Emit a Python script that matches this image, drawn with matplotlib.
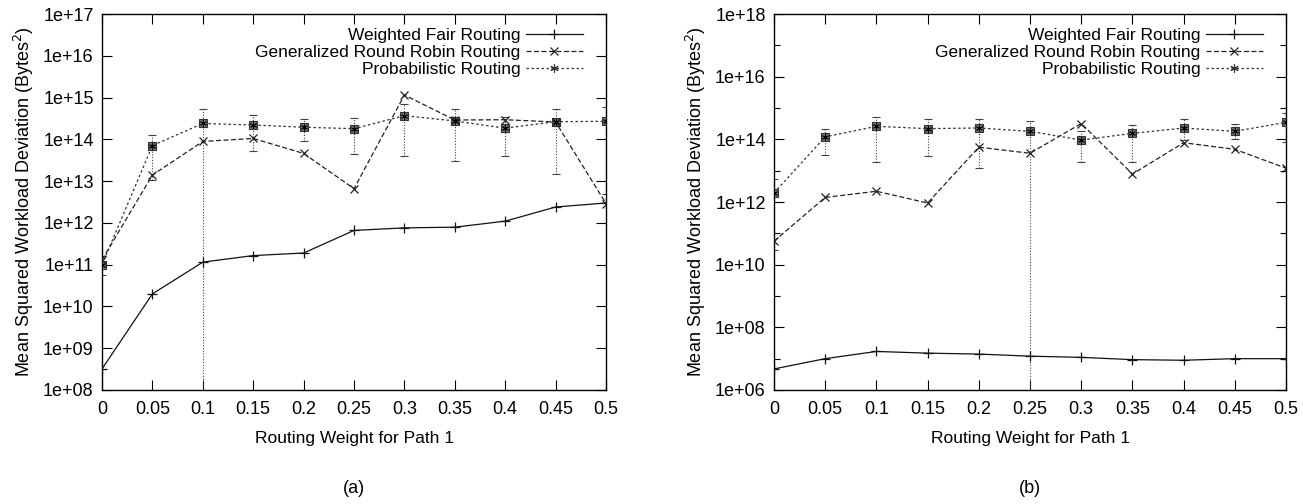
import matplotlib
matplotlib.use('Agg')
import matplotlib.pyplot as plt
from matplotlib.lines import Line2D
from matplotlib.ticker import LogLocator, FixedLocator, NullFormatter

plt.rcParams['font.family'] = ['Liberation Sans', 'DejaVu Sans']
plt.rcParams['font.size'] = 12

weights = [0, 0.05, 0.1, 0.15, 0.2, 0.25, 0.3, 0.35, 0.4, 0.45, 0.5]
weight_labels = ['0', '0.05', '0.1', '0.15', '0.2', '0.25', '0.3', '0.35', '0.4', '0.45', '0.5']

# panel (a)
wfr_a = [3.2e8, 2.0e10, 1.15e11, 1.65e11, 1.9e11, 6.6e11, 7.6e11, 7.9e11, 1.1e12, 2.4e12, 3.0e12]
grr_a = [1.3e11, 1.4e13, 8.9e13, 1.05e14, 4.6e13, 6.6e12, 1.15e15, 2.9e14, 2.95e14, 2.6e14, 2.9e12]
prob_a = [1.0e11, 7.1e13, 2.4e14, 2.2e14, 1.95e14, 1.8e14, 3.7e14, 2.75e14, 1.85e14, 2.65e14, 2.7e14]
prob_a_hi = [1.6e11, 1.3e14, 5.4e14, 3.8e14, 3.0e14, 3.2e14, 7.1e14, 5.2e14, 3.4e14, 5.2e14, 5.8e14]
prob_a_lo = [5.8e10, 1.05e13, 1e7, 5.4e13, 8.9e13, 4.5e13, 3.9e13, 3.0e13, 3.9e13, 1.5e13, 5e12]
yticks_a = [1e8, 1e9, 1e10, 1e11, 1e12, 1e13, 1e14, 1e15, 1e16, 1e17]
ylabels_a = ['1e+08', '1e+09', '1e+10', '1e+11', '1e+12', '1e+13', '1e+14', '1e+15', '1e+16', '1e+17']

# panel (b)
wfr_b = [4.7e6, 1.0e7, 1.7e7, 1.5e7, 1.4e7, 1.2e7, 1.1e7, 9.3e6, 8.9e6, 1.0e7, 1.0e7]
grr_b = [5.6e10, 1.4e12, 2.2e12, 9.3e11, 5.6e13, 3.6e13, 3.2e14, 7.8e12, 7.8e13, 4.8e13, 1.2e13]
prob_b = [1.95e12, 1.2e14, 2.6e14, 2.2e14, 2.3e14, 1.8e14, 9.5e13, 1.55e14, 2.3e14, 1.8e14, 3.5e14]
prob_b_hi = [5.6e12, 2.1e14, 5.2e14, 4.4e14, 4.6e14, 3.9e14, 1.8e14, 2.8e14, 4.4e14, 3.0e14, 7.1e14]
prob_b_lo = [3e10, 3.2e13, 1.95e13, 3.0e13, 1.2e13, 1e5, 1.9e13, 1.95e13, 9.5e13, 1.0e14, 8.5e13]
yticks_b = [1e6, 1e8, 1e10, 1e12, 1e14, 1e16, 1e18]
ylabels_b = ['1e+06', '1e+08', '1e+10', '1e+12', '1e+14', '1e+16', '1e+18']

series_names = ['Weighted Fair Routing', 'Generalized Round Robin Routing', 'Probabilistic Routing']

ASTERISK = (6, 2, 0)


def draw_panel(ax, wfr, grr, prob, lo, hi, yticks, ylabels, minor, tag):
    err = [[p - l for p, l in zip(prob, lo)], [h - p for p, h in zip(prob, hi)]]
    eb = ax.errorbar(weights, prob, yerr=err, fmt='none', ecolor='#444444',
                     elinewidth=0.8, capsize=3, capthick=0.8, zorder=2)
    for col in eb[2]:
        col.set_linestyle((0, (1, 1.5)))
    ax.plot(weights, prob, color='#333333', lw=0.9, ls=(0, (2, 2)),
            marker='s', ms=5.5, mfc='#707070', mec='#333333', mew=0.8, zorder=3)
    ax.plot(weights, prob, ls='none', marker=ASTERISK, ms=5, mec='k', mew=0.6, zorder=4)
    ax.plot(weights, grr, color='#222222', lw=0.9, ls=(0, (4, 2)),
            marker='x', ms=6, mew=0.9, zorder=3)
    ax.plot(weights, wfr, color='#111111', lw=0.9, ls='-',
            marker='+', ms=7, mew=0.9, zorder=3)

    ax.set_yscale('log')
    ax.set_xlim(0, 0.5)
    ax.set_ylim(yticks[0], yticks[-1])
    ax.set_xticks(weights)
    ax.set_xticklabels(weight_labels)
    ax.yaxis.set_major_locator(FixedLocator(yticks))
    ax.set_yticklabels(ylabels)
    ax.yaxis.set_minor_locator(minor)
    ax.yaxis.set_minor_formatter(NullFormatter())
    ax.tick_params(which='both', direction='in', top=True, right=True, width=0.8, labelsize=13)
    ax.tick_params(which='major', length=7)
    ax.tick_params(axis='x', which='major', pad=8)
    ax.tick_params(axis='y', which='major', pad=6)
    ax.tick_params(which='minor', length=4)
    for s in ax.spines.values():
        s.set_linewidth(1.0)

    ax.set_xlabel('Routing Weight for Path 1', labelpad=9, fontsize=12.5)
    ax.set_ylabel('Mean Squared Workload Deviation (Bytes$^2$)', labelpad=5, fontsize=13)

    handles = [
        Line2D([], [], color='#111111', lw=0.9, ls='-', marker='+', ms=7, mew=0.9),
        Line2D([], [], color='#222222', lw=0.9, ls=(0, (4, 2)), marker='x', ms=6, mew=0.9),
        Line2D([], [], color='#333333', lw=0.9, ls=(0, (2, 2)), marker=ASTERISK, ms=6, mew=0.8),
    ]
    ax.legend(handles, series_names, loc='upper right', bbox_to_anchor=(0.975, 0.99),
              frameon=False, markerfirst=False, numpoints=1, handlelength=3.3,
              handletextpad=0.3, labelspacing=0.1, borderaxespad=0.2, fontsize=12.5)

    ax.text(0.5, -0.262, tag, transform=ax.transAxes, ha='center', va='center', fontsize=13)


fig = plt.figure(figsize=(13.03, 5.04), dpi=100)
ax_a = fig.add_axes([0.0783, 0.2262, 0.3868, 0.746])
ax_b = fig.add_axes([0.594, 0.2262, 0.393, 0.746])

draw_panel(ax_a, wfr_a, grr_a, prob_a, prob_a_lo, prob_a_hi, yticks_a, ylabels_a,
           LogLocator(base=10, subs=(2.0, 5.0)), '(a)')
draw_panel(ax_b, wfr_b, grr_b, prob_b, prob_b_lo, prob_b_hi, yticks_b, ylabels_b,
           FixedLocator([1e7, 1e9, 1e11, 1e13, 1e15, 1e17]), '(b)')

fig.savefig('out.png', dpi=100)
